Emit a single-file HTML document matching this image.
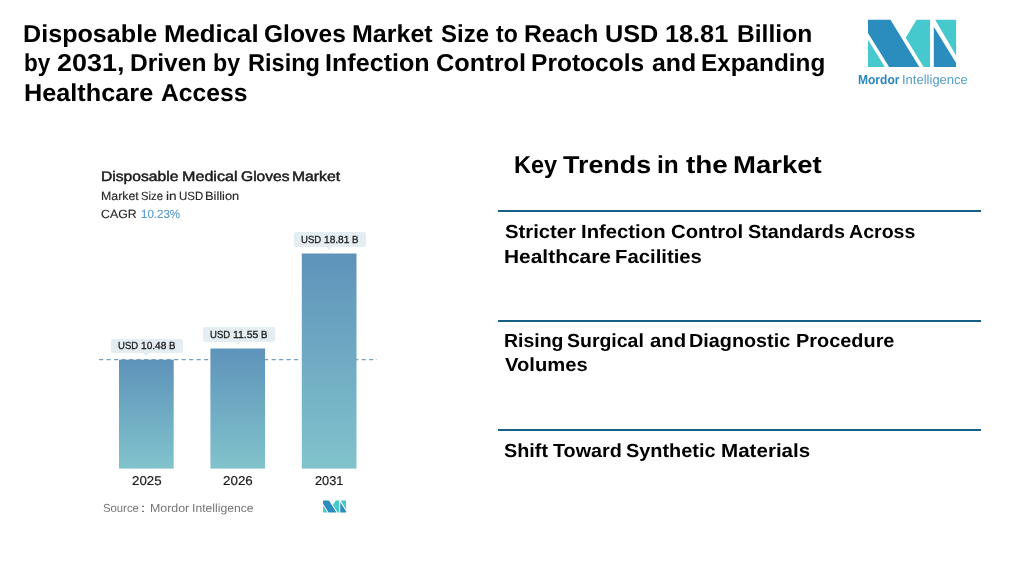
<!DOCTYPE html>
<html><head><meta charset="utf-8">
<style>
html,body{margin:0;padding:0;background:#fff;}
body{width:1027px;height:570px;position:relative;overflow:hidden;font-family:"Liberation Sans",sans-serif;color:#000;}
.abs{position:absolute;white-space:nowrap;}
.w{position:absolute;white-space:nowrap;transform-origin:0 50%;display:block;text-rendering:geometricPrecision;}
.rule{position:absolute;left:498px;width:483px;height:2px;background:#156089;}
.box{position:absolute;background:#e4edf1;border-radius:2.5px;}
.ptr{position:absolute;width:0;height:0;border-left:3.2px solid transparent;border-right:3.2px solid transparent;border-top:3.6px solid #e4edf1;}
</style></head><body>

<div id="title">
<span class="w" style="left:23.43px;top:22.66px;font-size:24.5px;line-height:24.5px;font-weight:bold;transform:scaleX(1.0267);">Disposable</span>
<span class="w" style="left:164.39px;top:22.66px;font-size:24.5px;line-height:24.5px;font-weight:bold;transform:scaleX(1.0531);">Medical</span>
<span class="w" style="left:264.23px;top:22.66px;font-size:24.5px;line-height:24.5px;font-weight:bold;transform:scaleX(1.0007);">Gloves</span>
<span class="w" style="left:352.44px;top:22.66px;font-size:24.5px;line-height:24.5px;font-weight:bold;transform:scaleX(1.0216);">Market</span>
<span class="w" style="left:440.63px;top:22.66px;font-size:24.5px;line-height:24.5px;font-weight:bold;transform:scaleX(0.9785);">Size</span>
<span class="w" style="left:496.00px;top:22.66px;font-size:24.5px;line-height:24.5px;font-weight:bold;transform:scaleX(0.9407);">to</span>
<span class="w" style="left:524.45px;top:22.66px;font-size:24.5px;line-height:24.5px;font-weight:bold;transform:scaleX(1.0096);">Reach</span>
<span class="w" style="left:604.52px;top:22.66px;font-size:24.5px;line-height:24.5px;font-weight:bold;transform:scaleX(1.0316);">USD</span>
<span class="w" style="left:665.42px;top:22.66px;font-size:24.5px;line-height:24.5px;font-weight:bold;transform:scaleX(1.0310);">18.81</span>
<span class="w" style="left:737.46px;top:22.66px;font-size:24.5px;line-height:24.5px;font-weight:bold;transform:scaleX(1.0050);">Billion</span>
<span class="w" style="left:24.09px;top:52.46px;font-size:24.5px;line-height:24.5px;font-weight:bold;transform:scaleX(0.9186);">by</span>
<span class="w" style="left:56.66px;top:52.46px;font-size:24.5px;line-height:24.5px;font-weight:bold;transform:scaleX(1.0999);">2031,</span>
<span class="w" style="left:130.27px;top:52.46px;font-size:24.5px;line-height:24.5px;font-weight:bold;transform:scaleX(1.0022);">Driven</span>
<span class="w" style="left:213.15px;top:52.46px;font-size:24.5px;line-height:24.5px;font-weight:bold;transform:scaleX(0.9443);">by</span>
<span class="w" style="left:248.13px;top:52.46px;font-size:24.5px;line-height:24.5px;font-weight:bold;transform:scaleX(0.9615);">Rising</span>
<span class="w" style="left:325.03px;top:52.46px;font-size:24.5px;line-height:24.5px;font-weight:bold;transform:scaleX(1.0255);">Infection</span>
<span class="w" style="left:435.71px;top:52.46px;font-size:24.5px;line-height:24.5px;font-weight:bold;transform:scaleX(1.0344);">Control</span>
<span class="w" style="left:531.47px;top:52.46px;font-size:24.5px;line-height:24.5px;font-weight:bold;transform:scaleX(1.0021);">Protocols</span>
<span class="w" style="left:651.61px;top:52.46px;font-size:24.5px;line-height:24.5px;font-weight:bold;transform:scaleX(1.0167);">and</span>
<span class="w" style="left:701.48px;top:52.46px;font-size:24.5px;line-height:24.5px;font-weight:bold;transform:scaleX(0.9924);">Expanding</span>
<span class="w" style="left:23.92px;top:82.26px;font-size:24.5px;line-height:24.5px;font-weight:bold;transform:scaleX(1.0313);">Healthcare</span>
<span class="w" style="left:160.91px;top:82.26px;font-size:24.5px;line-height:24.5px;font-weight:bold;transform:scaleX(1.0066);">Access</span>
</div>
<svg class="abs" style="left:860px;top:14px" width="105" height="58" viewBox="0 0 1027 567"><polygon points="78,55 298,55 580,518 285,518 78,185" fill="#2b8cbe"/>
<polygon points="78,252 78,518 243,518" fill="#45c9cd"/>
<polygon points="553,55 685,55 685,518 622,518 447,233" fill="#45c9cd"/>
<polygon points="722,125 940,478 940,518 722,518" fill="#2b8cbe"/>
<polygon points="735,55 940,55 940,405" fill="#45c9cd"/></svg>
<span class="w" style="left:858.05px;top:73.20px;font-size:13px;line-height:13px;font-weight:bold;transform:scaleX(0.9252);color:#2b86bd;">Mordor</span>
<span class="w" style="left:901.78px;top:73.20px;font-size:13px;line-height:13px;font-weight:normal;transform:scaleX(1.0012);color:#549dc8;">Intelligence</span>
<span class="w" style="left:100.58px;top:169.05px;font-size:14px;line-height:14px;font-weight:normal;transform:scaleX(1.1169);color:#1c1c1c;-webkit-text-stroke:0.45px #151515;">Disposable</span>
<span class="w" style="left:181.54px;top:169.05px;font-size:14px;line-height:14px;font-weight:normal;transform:scaleX(1.1509);color:#1c1c1c;-webkit-text-stroke:0.45px #151515;">Medical</span>
<span class="w" style="left:240.57px;top:169.05px;font-size:14px;line-height:14px;font-weight:normal;transform:scaleX(1.1159);color:#1c1c1c;-webkit-text-stroke:0.45px #151515;">Gloves</span>
<span class="w" style="left:292.47px;top:169.05px;font-size:14px;line-height:14px;font-weight:normal;transform:scaleX(1.1236);color:#1c1c1c;-webkit-text-stroke:0.45px #151515;">Market</span>
<span class="w" style="left:100.81px;top:191.13px;font-size:11.9px;line-height:11.9px;font-weight:normal;transform:scaleX(1.0378);color:#2a2a2a;-webkit-text-stroke:0.15px #2a2a2a;">Market</span>
<span class="w" style="left:141.33px;top:191.13px;font-size:11.9px;line-height:11.9px;font-weight:normal;transform:scaleX(0.9489);color:#2a2a2a;-webkit-text-stroke:0.15px #2a2a2a;">Size</span>
<span class="w" style="left:166.24px;top:191.13px;font-size:11.9px;line-height:11.9px;font-weight:normal;transform:scaleX(1.1493);color:#2a2a2a;-webkit-text-stroke:0.15px #2a2a2a;">in</span>
<span class="w" style="left:178.93px;top:191.13px;font-size:11.9px;line-height:11.9px;font-weight:normal;transform:scaleX(0.9628);color:#2a2a2a;-webkit-text-stroke:0.15px #2a2a2a;">USD</span>
<span class="w" style="left:205.38px;top:191.13px;font-size:11.9px;line-height:11.9px;font-weight:normal;transform:scaleX(1.0789);color:#2a2a2a;-webkit-text-stroke:0.15px #2a2a2a;">Billion</span>
<span class="w" style="left:100.98px;top:208.63px;font-size:11.9px;line-height:11.9px;font-weight:normal;transform:scaleX(1.0380);color:#2a2a2a;-webkit-text-stroke:0.15px #2a2a2a;">CAGR</span>
<span class="w" style="left:141.23px;top:208.63px;font-size:11.9px;line-height:11.9px;font-weight:normal;transform:scaleX(0.9698);color:#5e9cc6;-webkit-text-stroke:0.15px #5e9cc6;">10.23%</span>
<svg class="abs" style="left:0;top:0" width="1027" height="570">
<defs><linearGradient id="g" gradientUnits="userSpaceOnUse" x1="0" y1="253.5" x2="0" y2="468.2"><stop offset="0" stop-color="#5e93ba"/><stop offset="1" stop-color="#81c3cc"/></linearGradient>
<linearGradient id="g1" x1="0" y1="0" x2="0" y2="1"><stop offset="0" stop-color="#5e93ba"/><stop offset="1" stop-color="#81c3cc"/></linearGradient></defs>
<line x1="99.1" y1="359.6" x2="377" y2="359.6" stroke="#739fc4" stroke-width="1.1" stroke-dasharray="4.1,3.4"/>
<rect x="119" y="359.7" width="54.7" height="108.9" fill="url(#g1)"/>
<rect x="210.4" y="348.5" width="54.7" height="120.1" fill="url(#g1)"/>
<rect x="301.8" y="253.5" width="54.7" height="215.1" fill="url(#g1)"/>
</svg>
<div class="box" style="left:110.8px;top:338.6px;width:72px;height:14.4px"></div><div class="ptr" style="left:143.10000000000002px;top:352.90000000000003px"></div><span class="w" style="left:118.31px;top:342.38px;font-size:10.3px;line-height:10.3px;font-weight:normal;transform:scaleX(0.9265);color:#1c1c1c;-webkit-text-stroke:0.3px #1c1c1c;">USD</span>
<span class="w" style="left:141.06px;top:342.38px;font-size:10.3px;line-height:10.3px;font-weight:normal;transform:scaleX(0.9839);color:#1c1c1c;-webkit-text-stroke:0.3px #1c1c1c;">10.48</span>
<span class="w" style="left:168.85px;top:342.38px;font-size:10.3px;line-height:10.3px;font-weight:normal;transform:scaleX(0.9369);color:#1c1c1c;-webkit-text-stroke:0.3px #1c1c1c;">B</span>
<div class="box" style="left:202.5px;top:327.2px;width:72px;height:14.4px"></div><div class="ptr" style="left:234.8px;top:341.5px"></div><span class="w" style="left:210.01px;top:330.98px;font-size:10.3px;line-height:10.3px;font-weight:normal;transform:scaleX(0.9265);color:#1c1c1c;-webkit-text-stroke:0.3px #1c1c1c;">USD</span>
<span class="w" style="left:232.74px;top:330.98px;font-size:10.3px;line-height:10.3px;font-weight:normal;transform:scaleX(1.0154);color:#1c1c1c;-webkit-text-stroke:0.3px #1c1c1c;">11.55</span>
<span class="w" style="left:260.55px;top:330.98px;font-size:10.3px;line-height:10.3px;font-weight:normal;transform:scaleX(0.9369);color:#1c1c1c;-webkit-text-stroke:0.3px #1c1c1c;">B</span>
<div class="box" style="left:293.9px;top:232.3px;width:72px;height:14.4px"></div><div class="ptr" style="left:326.2px;top:246.60000000000002px"></div><span class="w" style="left:301.41px;top:236.08px;font-size:10.3px;line-height:10.3px;font-weight:normal;transform:scaleX(0.9265);color:#1c1c1c;-webkit-text-stroke:0.3px #1c1c1c;">USD</span>
<span class="w" style="left:324.16px;top:236.08px;font-size:10.3px;line-height:10.3px;font-weight:normal;transform:scaleX(0.9859);color:#1c1c1c;-webkit-text-stroke:0.3px #1c1c1c;">18.81</span>
<span class="w" style="left:351.95px;top:236.08px;font-size:10.3px;line-height:10.3px;font-weight:normal;transform:scaleX(0.9369);color:#1c1c1c;-webkit-text-stroke:0.3px #1c1c1c;">B</span>
<span class="w" style="left:131.98px;top:475.46px;font-size:12.8px;line-height:12.8px;font-weight:normal;transform:scaleX(1.0382);color:#1c1c1c;-webkit-text-stroke:0.2px #1c1c1c;">2025</span>
<span class="w" style="left:223.37px;top:475.46px;font-size:12.8px;line-height:12.8px;font-weight:normal;transform:scaleX(1.0455);color:#1c1c1c;-webkit-text-stroke:0.2px #1c1c1c;">2026</span>
<span class="w" style="left:314.70px;top:475.46px;font-size:12.8px;line-height:12.8px;font-weight:normal;transform:scaleX(0.9979);color:#1c1c1c;-webkit-text-stroke:0.2px #1c1c1c;">2031</span>
<span class="w" style="left:103.12px;top:503.00px;font-size:11.7px;line-height:11.7px;font-weight:normal;transform:scaleX(0.9677);color:#767676;">Source</span>
<span class="w" style="left:140.38px;top:503.00px;font-size:11.7px;line-height:11.7px;font-weight:normal;transform:scaleX(1.8261);color:#767676;">:</span>
<span class="w" style="left:150.29px;top:503.00px;font-size:11.7px;line-height:11.7px;font-weight:normal;transform:scaleX(1.0594);color:#767676;">Mordor</span>
<span class="w" style="left:191.91px;top:503.00px;font-size:11.7px;line-height:11.7px;font-weight:normal;transform:scaleX(1.0410);color:#767676;">Intelligence</span>
<svg class="abs" style="left:320.95px;top:499.35px" width="27.4" height="14.65" viewBox="0 0 1027 567" preserveAspectRatio="none"><polygon points="78,55 298,55 580,518 285,518 78,185" fill="#2b8cbe"/>
<polygon points="78,252 78,518 243,518" fill="#45c9cd"/>
<polygon points="553,55 685,55 685,518 622,518 447,233" fill="#45c9cd"/>
<polygon points="722,125 940,478 940,518 722,518" fill="#2b8cbe"/>
<polygon points="735,55 940,55 940,405" fill="#45c9cd"/></svg>
<span class="w" style="left:513.63px;top:154.06px;font-size:24.5px;line-height:24.5px;font-weight:bold;transform:scaleX(0.9594);">Key</span>
<span class="w" style="left:562.70px;top:154.06px;font-size:24.5px;line-height:24.5px;font-weight:bold;transform:scaleX(1.0966);">Trends</span>
<span class="w" style="left:657.47px;top:154.06px;font-size:24.5px;line-height:24.5px;font-weight:bold;transform:scaleX(0.9970);">in</span>
<span class="w" style="left:686.10px;top:154.06px;font-size:24.5px;line-height:24.5px;font-weight:bold;transform:scaleX(1.1400);">the</span>
<span class="w" style="left:733.18px;top:154.06px;font-size:24.5px;line-height:24.5px;font-weight:bold;transform:scaleX(1.1238);">Market</span>
<div class="rule" style="top:210px"></div>
<div class="rule" style="top:320px"></div>
<div class="rule" style="top:429px"></div>
<span class="w" style="left:504.78px;top:223.22px;font-size:19px;line-height:19px;font-weight:bold;transform:scaleX(1.0673);">Stricter</span>
<span class="w" style="left:580.53px;top:223.22px;font-size:19px;line-height:19px;font-weight:bold;transform:scaleX(1.0680);">Infection</span>
<span class="w" style="left:670.87px;top:223.22px;font-size:19px;line-height:19px;font-weight:bold;transform:scaleX(1.0680);">Control</span>
<span class="w" style="left:747.59px;top:223.22px;font-size:19px;line-height:19px;font-weight:bold;transform:scaleX(1.0441);">Standards</span>
<span class="w" style="left:849.09px;top:223.22px;font-size:19px;line-height:19px;font-weight:bold;transform:scaleX(1.0307);">Across</span>
<span class="w" style="left:503.79px;top:248.02px;font-size:19px;line-height:19px;font-weight:bold;transform:scaleX(1.1005);">Healthcare</span>
<span class="w" style="left:615.23px;top:248.02px;font-size:19px;line-height:19px;font-weight:bold;transform:scaleX(1.0686);">Facilities</span>
<span class="w" style="left:503.88px;top:331.92px;font-size:19px;line-height:19px;font-weight:bold;transform:scaleX(1.0242);">Rising</span>
<span class="w" style="left:567.40px;top:331.92px;font-size:19px;line-height:19px;font-weight:bold;transform:scaleX(1.0251);">Surgical</span>
<span class="w" style="left:649.58px;top:331.92px;font-size:19px;line-height:19px;font-weight:bold;transform:scaleX(1.0692);">and</span>
<span class="w" style="left:689.36px;top:331.92px;font-size:19px;line-height:19px;font-weight:bold;transform:scaleX(1.0423);">Diagnostic</span>
<span class="w" style="left:795.96px;top:331.92px;font-size:19px;line-height:19px;font-weight:bold;transform:scaleX(1.0475);">Procedure</span>
<span class="w" style="left:504.60px;top:356.12px;font-size:19px;line-height:19px;font-weight:bold;transform:scaleX(1.0648);">Volumes</span>
<span class="w" style="left:504.29px;top:442.02px;font-size:19px;line-height:19px;font-weight:bold;transform:scaleX(1.0425);">Shift</span>
<span class="w" style="left:553.20px;top:442.02px;font-size:19px;line-height:19px;font-weight:bold;transform:scaleX(1.0411);">Toward</span>
<span class="w" style="left:626.29px;top:442.02px;font-size:19px;line-height:19px;font-weight:bold;transform:scaleX(1.0466);">Synthetic</span>
<span class="w" style="left:721.21px;top:442.02px;font-size:19px;line-height:19px;font-weight:bold;transform:scaleX(1.0831);">Materials</span>
</body></html>
